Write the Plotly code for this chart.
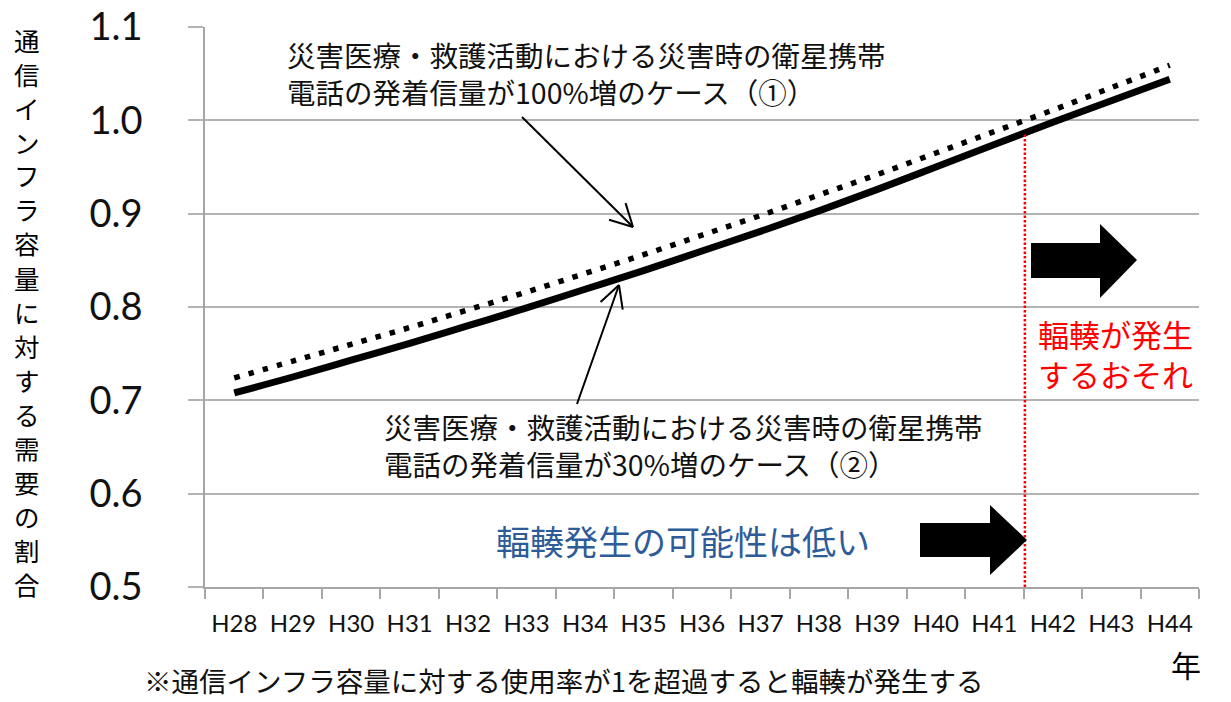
import math
import numpy as np
import plotly.graph_objects as go

# ---------------- data ----------------
years = ["H28", "H29", "H30", "H31", "H32", "H33", "H34", "H35", "H36",
         "H37", "H38", "H39", "H40", "H41", "H42", "H43", "H44"]
case1_100pct = [0.724, 0.742, 0.760, 0.778, 0.797, 0.816, 0.836, 0.856, 0.877,
                0.898, 0.920, 0.942, 0.965, 0.988, 1.011, 1.035, 1.059]
case2_30pct = [0.708, 0.725, 0.743, 0.761, 0.780, 0.799, 0.819, 0.839, 0.860,
               0.881, 0.903, 0.926, 0.950, 0.974, 0.998, 1.021, 1.044]
threshold = 1.0
y_ticks = [0.5, 0.6, 0.7, 0.8, 0.9, 1.0, 1.1]

ytitle = "通信インフラ容量に対する需要の割合"
label1 = "災害医療・救護活動における災害時の衛星携帯<br>電話の発着信量が100%増のケース（①）"
label2 = "災害医療・救護活動における災害時の衛星携帯<br>電話の発着信量が30%増のケース（②）"
red_text = "輻輳が発生<br>するおそれ"
blue_text = "輻輳発生の可能性は低い"
footnote = "※通信インフラ容量に対する使用率が1を超過すると輻輳が発生する"
xunit = "年"

# ---------------- layout helpers (pixel -> paper) ----------------
W_FIG, H_FIG = 1231, 702
L, R, T, B = 205, 1199, 27, 587
PW, PH = R - L, B - T


def px(x):
    return (x - L) / PW


def py(y):
    return (B - y) / PH


JP = "Noto Sans CJK JP"
NUM = "Lato, Noto Sans CJK JP"

fig = go.Figure()
fig.add_trace(go.Scatter(
    x=years, y=case1_100pct, mode="lines", name="①",
    line=dict(color="black", width=5.5, dash="5.5px,9.2px", shape="spline"),
    showlegend=False, hoverinfo="skip"))
fig.add_trace(go.Scatter(
    x=years, y=case2_30pct, mode="lines", name="②",
    line=dict(color="black", width=7, shape="spline"),
    showlegend=False, hoverinfo="skip"))

# crossing of case ① with threshold -> red dotted line
idx = np.arange(len(years))
c1 = np.array(case1_100pct)
cross_x = float(np.interp(threshold, c1, idx))
cross_top = float(np.interp(cross_x, idx, case2_30pct))

shapes = [
    dict(type="line", xref="x", yref="y", x0=cross_x, x1=cross_x,
         y0=y_ticks[0], y1=cross_top,
         line=dict(color="#ff0000", width=2.5, dash="2.5px,2px")),
]


def poly(points):
    return "M " + " L ".join(f"{px(a):.5f},{py(b):.5f}" for a, b in points) + " Z"


arrow_up = [(1031, 243), (1100, 243), (1100, 224), (1137, 260),
            (1100, 298), (1100, 278), (1031, 278)]
arrow_low = [(920, 523), (990, 523), (990, 505), (1027, 540),
             (990, 575), (990, 557), (920, 557)]
for pts in (arrow_up, arrow_low):
    shapes.append(dict(type="path", xref="paper", yref="paper", path=poly(pts),
                       fillcolor="black", line=dict(color="black", width=0)))


def pointer(tail, tip, arm=25, spread=28):
    ang = math.atan2(tail[1] - tip[1], tail[0] - tip[0])
    segs = [(tail, tip)]
    for s in (-spread, spread):
        a = ang + math.radians(s)
        segs.append((tip, (tip[0] + arm * math.cos(a), tip[1] + arm * math.sin(a))))
    for p0, p1 in segs:
        shapes.append(dict(type="line", xref="paper", yref="paper",
                           x0=px(p0[0]), y0=py(p0[1]), x1=px(p1[0]), y1=py(p1[1]),
                           line=dict(color="black", width=2)))


pointer((522, 117), (633, 227))
pointer((577, 404), (619, 285))

annotations = []


def text_ann(s, x, y, size, color="#000000", xanchor="left", family=JP,
             align="left", yanchor="middle"):
    annotations.append(dict(
        text=s, xref="paper", yref="paper", x=px(x), y=py(y),
        xanchor=xanchor, yanchor=yanchor, showarrow=False, align=align,
        borderpad=0, font=dict(family=family, size=size, color=color)))


# vertical y-axis title, one character per row
for i, ch in enumerate(ytitle):
    text_ann(ch, 27, 39 + i * 34, 25.5, xanchor="center")

text_ann(label1, 286, 73, 28.5, color="#111111")
text_ann(label2, 383, 445, 28.5, color="#111111")
text_ann(red_text, 1037, 354, 31, color="#ff0000")
text_ann(blue_text, 495, 540, 34, color="#2e5c99")
text_ann(footnote, 143, 701, 27.5, color="#111111", yanchor="bottom")
text_ann(xunit, 1186, 664, 30, xanchor="center")

fig.update_layout(
    width=W_FIG, height=H_FIG,
    margin=dict(l=L, r=W_FIG - R, t=T, b=H_FIG - B, pad=0, autoexpand=False),
    paper_bgcolor="white", plot_bgcolor="white",
    shapes=shapes, annotations=annotations,
    xaxis=dict(
        type="category", range=[-0.5, len(years) - 0.5], automargin=False,
        tickson="boundaries", ticks="outside", ticklen=10, tickwidth=1.5,
        tickcolor="#a6a6a6", showline=True, linecolor="#a6a6a6", linewidth=1.5,
        showgrid=False, zeroline=False,
        tickfont=dict(family=NUM, size=24, color="#111111"),
        ticklabelstandoff=14),
    yaxis=dict(
        range=[y_ticks[0], y_ticks[-1]], tickvals=y_ticks, tickformat=".1f",
        automargin=False,
        ticks="outside", ticklen=15, tickwidth=1.5, tickcolor="#b3b3b3",
        showline=True, linecolor="#a6a6a6", linewidth=1.5,
        showgrid=True, gridcolor="#b3b3b3", gridwidth=1.5, zeroline=False,
        tickfont=dict(family=NUM, size=38, color="#111111"),
        ticklabelstandoff=38),
)

fig.write_html("out.html")
